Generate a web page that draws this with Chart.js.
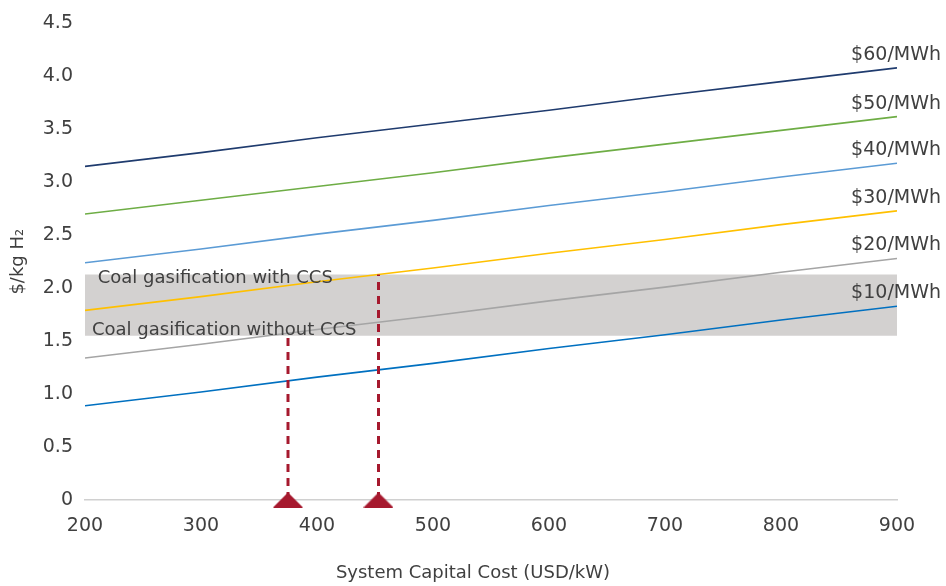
<!DOCTYPE html>
<html>
<head>
<meta charset="utf-8">
<script src="https://cdn.jsdelivr.net/npm/chart.js@4.4.1/dist/chart.umd.min.js"></script>
<style>
  html, body { margin: 0; padding: 0; background: #fff; }
  #wrap { width: 946px; height: 586px; }
</style>
</head>
<body>
<div id="wrap"><canvas id="chart" width="946" height="586"></canvas></div>
<script>
// capital cost (USD/kW)
const capex = [200, 300, 400, 500, 600, 700, 800, 900];

// hydrogen cost ($/kg) per electricity price
const series = [
  { label: "$60/MWh", color: "#1F3B6E", values: [3.15, 3.28, 3.42, 3.55, 3.68, 3.82, 3.95, 4.08] },
  { label: "$50/MWh", color: "#6EAD45", values: [2.70, 2.83, 2.96, 3.09, 3.23, 3.36, 3.49, 3.62] },
  { label: "$40/MWh", color: "#5B9BD5", values: [2.24, 2.37, 2.51, 2.64, 2.78, 2.91, 3.05, 3.18] },
  { label: "$30/MWh", color: "#FFC000", values: [1.79, 1.92, 2.06, 2.19, 2.33, 2.46, 2.60, 2.73] },
  { label: "$20/MWh", color: "#A5A5A5", values: [1.34, 1.47, 1.61, 1.74, 1.88, 2.01, 2.15, 2.28] },
  { label: "$10/MWh", color: "#0070C0", values: [0.89, 1.02, 1.16, 1.29, 1.43, 1.56, 1.70, 1.83] }
];

// coal gasification range
const coalLow = 1.55;   // without CCS
const coalHigh = 2.13;  // with CCS
const bandX = [200, 900];

// break-even capex markers
const markerX = [375, 453];
const markerY = [coalLow, coalHigh];

const yTicks = [0, 0.5, 1, 1.5, 2, 2.5, 3, 3.5, 4, 4.5];

const TEXT = "#404040";
const RED = "#A6192E";
const FONT = "'DejaVu Sans', sans-serif";

// flat triangle marker
function triangleImg(w, h, color) {
  const c = document.createElement("canvas");
  c.width = w; c.height = h;
  const g = c.getContext("2d");
  g.fillStyle = color;
  g.beginPath();
  g.moveTo(w / 2, 0);
  g.lineTo(w, h);
  g.lineTo(0, h);
  g.closePath();
  g.fill();
  return c;
}
const tri = triangleImg(30, 15, RED);

const datasets = [];

// gray band (drawn behind)
datasets.push({
  data: bandX.map(x => ({ x, y: coalHigh })),
  borderWidth: 0,
  pointRadius: 0,
  backgroundColor: "#D3D1D0",
  fill: { value: coalLow },
  order: 10
});

for (const s of series) {
  datasets.push({
    label: s.label,
    data: capex.map((x, i) => ({ x, y: s.values[i] })),
    borderColor: s.color,
    borderWidth: 1.6,
    pointRadius: 0,
    fill: false,
    tension: 0,
    order: 5,
    endLabel: true
  });
}

markerX.forEach((x, i) => {
  datasets.push({
    data: [{ x, y: 0 }, { x, y: markerY[i] }],
    borderColor: RED,
    borderWidth: 3,
    borderDash: [8, 6],
    pointRadius: 0,
    fill: false,
    order: 2
  });
});

datasets.push({
  data: markerX.map(x => ({ x, y: 0 })),
  showLine: false,
  pointStyle: tri,
  pointRadius: 10,
  clip: false,
  order: 1
});

// labels at line ends, band notes, x title
const labelPlugin = {
  id: "labels",
  afterDatasetsDraw(chart) {
    const { ctx, scales } = chart;
    ctx.save();
    ctx.font = "19px " + FONT;
    ctx.fillStyle = TEXT;
    ctx.textAlign = "right";
    ctx.textBaseline = "middle";
    chart.data.datasets.forEach((ds, i) => {
      if (!ds.endLabel) return;
      const pts = chart.getDatasetMeta(i).data;
      const last = pts[pts.length - 1];
      ctx.fillText(ds.label, 941, last.y - 13);
    });
    ctx.font = "18px " + FONT;
    ctx.textAlign = "left";
    ctx.fillText("Coal gasification with CCS", scales.x.getPixelForValue(211), scales.y.getPixelForValue(coalHigh) + 4);
    ctx.fillText("Coal gasification without CCS", scales.x.getPixelForValue(206), scales.y.getPixelForValue(coalLow) - 6);
    ctx.textAlign = "center";
    ctx.fillText("System Capital Cost (USD/kW)", chart.width / 2, 573);
    ctx.restore();
  }
};

new Chart(document.getElementById("chart"), {
  type: "line",
  data: { datasets },
  plugins: [labelPlugin],
  options: {
    responsive: false,
    animation: false,
    layout: { padding: { top: 20, right: 49, bottom: 0, left: 0 } },
    plugins: { legend: { display: false }, tooltip: { enabled: false } },
    scales: {
      x: {
        type: "linear",
        min: 200, max: 900,
        grid: { display: false, drawTicks: false },
        border: { display: true, color: "#D0D0D0", width: 1.5 },
        ticks: { stepSize: 100, color: TEXT, font: { family: FONT, size: 19 }, padding: 15 },
        afterFit(scale) { scale.height = 86; }
      },
      y: {
        min: 0, max: 4.5,
        grid: { display: false, drawTicks: false },
        border: { display: false },
        afterBuildTicks(scale) { scale.ticks = yTicks.map(v => ({ value: v })); },
        ticks: {
          color: TEXT, font: { family: FONT, size: 19 }, padding: 12,
          callback: v => v === 0 ? "0" : v.toFixed(1)
        },
        title: { display: true, text: "$/kg H₂", color: TEXT, font: { family: FONT, size: 18 }, padding: { top: 8, bottom: 0 } },
        afterFit(scale) { scale.width = 85; }
      }
    }
  }
});
</script>
</body>
</html>
